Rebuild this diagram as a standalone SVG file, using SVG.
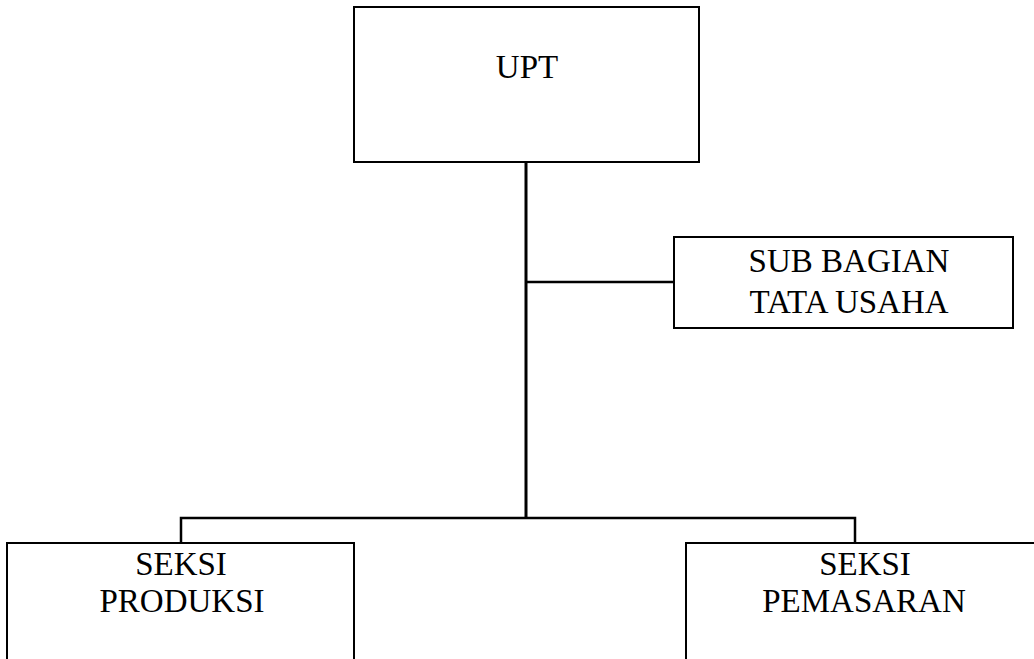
<svg xmlns="http://www.w3.org/2000/svg" width="1034" height="659" viewBox="0 0 1034 659">
  <style>
    .box { fill: #ffffff; stroke: #000000; stroke-width: 2; }
    .link { fill: none; stroke: #000000; stroke-width: 2.5; }
    .trunk { stroke-width: 3; }
    .label { font-family: "Liberation Serif", "Times New Roman", serif; font-size: 33px; fill: #000000; text-anchor: middle; }
  </style>
  <rect width="1034" height="659" fill="#ffffff"/>

  <!-- connectors -->
  <g id="connectors">
    <line class="link trunk" x1="526" y1="162" x2="526" y2="519"/>
    <line class="link" x1="526" y1="282" x2="674" y2="282"/>
    <polyline class="link" points="181,543 181,518 855,518 855,543"/>
  </g>

  <!-- head of unit -->
  <g id="node-upt">
    <rect class="box" x="354" y="7" width="345" height="155"/>
    <text class="label" x="527" y="78">UPT</text>
  </g>

  <!-- administration sub-division -->
  <g id="node-tata-usaha">
    <rect class="box" x="674" y="237" width="339" height="91"/>
    <text class="label" x="849" y="272">SUB BAGIAN</text>
    <text class="label" x="849" y="313">TATA USAHA</text>
  </g>

  <!-- production section -->
  <g id="node-produksi">
    <rect class="box" x="7" y="543" width="347" height="140"/>
    <text class="label" x="181" y="575">SEKSI</text>
    <text class="label" x="182" y="612">PRODUKSI</text>
  </g>

  <!-- marketing section -->
  <g id="node-pemasaran">
    <rect class="box" x="686" y="543" width="360" height="140"/>
    <text class="label" x="865" y="575">SEKSI</text>
    <text class="label" x="864" y="612">PEMASARAN</text>
  </g>
</svg>
